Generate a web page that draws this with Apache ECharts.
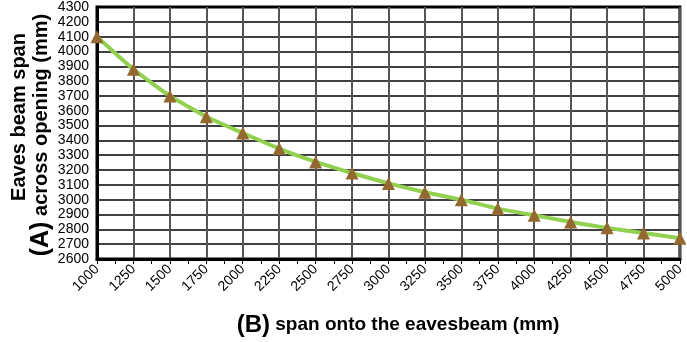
<!DOCTYPE html>
<html>
<head>
<meta charset="utf-8">
<script src="https://cdn.jsdelivr.net/npm/echarts@6/dist/echarts.min.js"></script>
<style>html,body{margin:0;padding:0;background:#fff;}#c{width:687px;height:342px;}</style>
</head>
<body>
<div id="c"></div>
<script>
var spans = [1000,1250,1500,1750,2000,2250,2500,2750,3000,3250,3500,3750,4000,4250,4500,4750,5000];
var eavesSpan = [4100,3880,3700,3560,3450,3345,3255,3180,3110,3050,3000,2940,2895,2850,2810,2775,2740];
var yTitle1 = 'Eaves beam span';
var yTitleA = '(A)';
var yTitle2 = ' across opening (mm)';
var xTitleB = '(B)';
var xTitle = ' span onto the eavesbeam (mm)';

var data = spans.map(function(s,i){return [s, eavesSpan[i]];});
var chart = echarts.init(document.getElementById('c'));
var F = '"Liberation Sans", Arial, sans-serif';
function plain(v){return String(v);}
chart.setOption({
  animation:false,
  grid:{left:97,right:3,top:6,bottom:83,show:true,borderColor:'#000',borderWidth:3,backgroundColor:'transparent'},
  xAxis:{type:'value',min:1000,max:5000,interval:250,
    axisLine:{lineStyle:{color:'#000',width:3}},
    axisTick:{show:true,length:5,lineStyle:{color:'#000',width:1}},
    minorTick:{show:true,splitNumber:2,length:5,lineStyle:{color:'#000',width:1}},
    splitLine:{show:true,lineStyle:{color:'#555',width:2}},
    axisLabel:{rotate:45,fontSize:14,color:'#000',fontFamily:F,margin:8,formatter:plain,
      showMinLabel:true,showMaxLabel:true,hideOverlap:false}
  },
  yAxis:{type:'value',min:2600,max:4300,interval:100,
    axisLine:{show:true,lineStyle:{color:'#000',width:3}},
    axisTick:{show:false},
    splitLine:{show:true,lineStyle:{color:'#000',width:1.5}},
    axisLabel:{fontSize:14,color:'#000',fontFamily:F,margin:8,formatter:plain,
      showMinLabel:true,showMaxLabel:true,hideOverlap:false}
  },
  series:[{type:'line',data:data,smooth:0.15,
    lineStyle:{color:'#92D050',width:4},
    symbol:'triangle',symbolSize:[13,13],
    itemStyle:{color:'#93692F'},z:3}],
  graphic:[
    {type:'text',rotation:Math.PI/2,x:19,y:117,
      style:{text:yTitle1,font:'bold 20px '+F,fill:'#000',align:'center',verticalAlign:'middle'}},
    {type:'text',rotation:Math.PI/2,x:41,y:135,
      style:{text:'{a|'+yTitleA+'}{b|'+yTitle2+'}',align:'center',verticalAlign:'middle',
        rich:{a:{font:'bold 25px '+F,fill:'#000'},b:{font:'bold 20px '+F,fill:'#000'}}}},
    {type:'text',x:398,y:325,
      style:{text:'{a|'+xTitleB+'}{b|'+xTitle+'}',align:'center',verticalAlign:'middle',
        rich:{a:{font:'bold 24px '+F,fill:'#000'},b:{font:'bold 19px '+F,fill:'#000'}}}}
  ]
});
</script>
</body>
</html>
